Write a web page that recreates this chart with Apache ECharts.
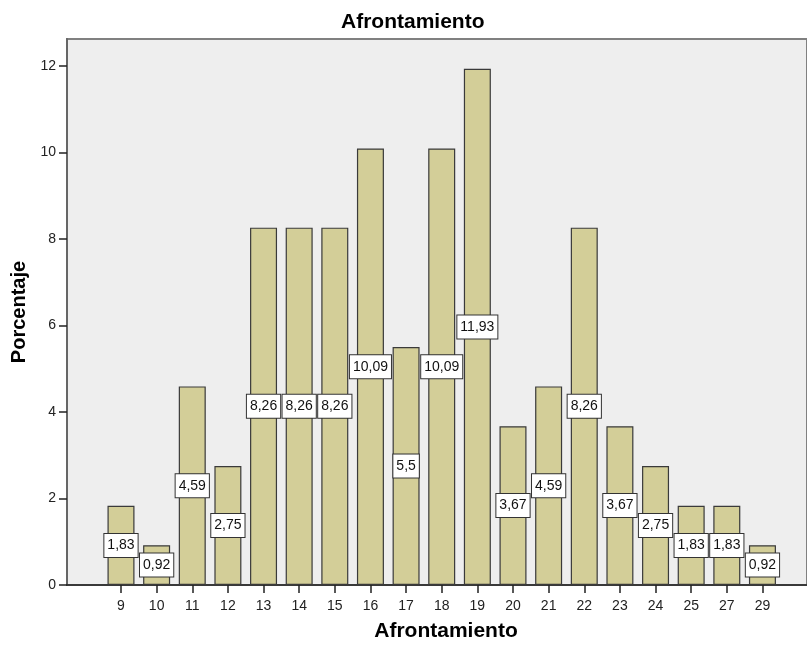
<!DOCTYPE html>
<html>
<head>
<meta charset="utf-8">
<script src="https://cdn.jsdelivr.net/npm/echarts@6/dist/echarts.min.js"></script>
<style>html,body{margin:0;padding:0;background:#fff;}#c{width:807px;height:645px;}</style>
</head>
<body>
<div id="c"></div>
<script>
const categories = ['9','10','11','12','13','14','15','16','17','18','19','20','21','22','23','24','25','27','29'];
const percentages = [1.83,0.92,4.59,2.75,8.26,8.26,8.26,10.09,5.5,10.09,11.93,3.67,4.59,8.26,3.67,2.75,1.83,1.83,0.92];
const yTicks = [0,2,4,6,8,10,12];

const positions = categories.map((c, i) => i);
const barData = percentages.map((v, i) => [positions[i], v]);
const font = 'Arial, "Liberation Sans", sans-serif';

const chart = echarts.init(document.getElementById('c'), null, {renderer: 'canvas'});
chart.setOption({
  animation: false,
  title: {
    text: 'Afrontamiento', left: 336, top: 7,
    textStyle: {fontFamily: font, fontSize: 21, fontWeight: 'bold', color: '#000'}
  },
  grid: {
    left: 67, top: 39, right: 0, height: 546, outerBoundsMode: 'none', containLabel: false,
    show: true, backgroundColor: '#eeeeee', borderColor: '#808080', borderWidth: 2
  },
  xAxis: {
    type: 'value', min: -1.515, max: 19.25,
    name: 'Afrontamiento', nameLocation: 'middle', nameGap: 36,
    nameTextStyle: {fontFamily: font, fontSize: 21, fontWeight: 'bold', color: '#000', padding: [0, 0, 0, 18]},
    axisLine: {show: true, onZero: false, lineStyle: {color: '#222', width: 1.5}},
    axisTick: {show: true, length: 8, customValues: positions, lineStyle: {color: '#222', width: 1.5}},
    axisLabel: {customValues: positions, formatter: v => categories[Math.round(v)], margin: 14,
      fontFamily: font, fontSize: 14, color: '#222'},
    splitLine: {show: false}
  },
  yAxis: {
    type: 'value', min: 0, max: 12.62, interval: 2,
    name: 'Porcentaje', nameLocation: 'middle', nameGap: 37,
    nameTextStyle: {fontFamily: font, fontSize: 20, fontWeight: 'bold', color: '#000'},
    axisLine: {show: true, onZero: false, lineStyle: {color: '#666', width: 2}},
    axisTick: {show: true, length: 8, customValues: yTicks, lineStyle: {color: '#222', width: 1.5}},
    axisLabel: {customValues: yTicks, margin: 11, fontFamily: font, fontSize: 14, color: '#222'},
    splitLine: {show: false}
  },
  series: [{
    type: 'bar', data: barData, barWidth: 27,
    itemStyle: {color: '#d3ce98', borderColor: '#3a3a3a', borderWidth: 1.2},
    label: {
      show: true, position: 'inside',
      formatter: p => String(p.value[1]).replace('.', ','),
      fontFamily: font, fontSize: 14, color: '#111',
      backgroundColor: '#ffffff', borderColor: '#333', borderWidth: 1,
      padding: [5, 3, 4, 3]
    }
  }]
});
</script>
</body>
</html>
